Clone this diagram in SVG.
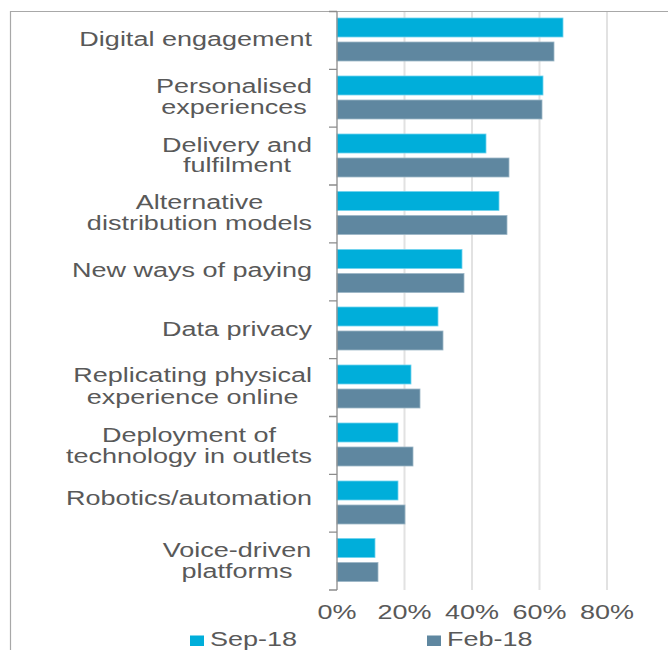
<svg xmlns="http://www.w3.org/2000/svg" width="668" height="650" viewBox="0 0 668 650">
<style>
.lbl{font-family:"Liberation Sans",Arial,sans-serif;font-size:19.5px;fill:#595959;text-anchor:middle}
.leg{font-family:"Liberation Sans",Arial,sans-serif;font-size:19.5px;fill:#595959;text-anchor:start}
.sep{fill:#00AEDA;stroke:#6fd3ee;stroke-width:0.8}
.feb{fill:#5F87A0;stroke:#9cb6c6;stroke-width:0.8}
.grid{stroke:#e2e2e2;stroke-width:2}
.axis{stroke:#8c8c8c;stroke-width:1.3;fill:none}
</style>
<rect width="668" height="650" fill="#ffffff"/>
<g id="frame"><path d="M10.5 650 V11.5 H668" fill="none" stroke="#a8a8a8" stroke-width="1.2"/></g>
<g id="gridlines">
<line class="grid" x1="404.5" y1="12" x2="404.5" y2="590"/>
<line class="grid" x1="472" y1="12" x2="472" y2="590"/>
<line class="grid" x1="539.5" y1="12" x2="539.5" y2="590"/>
<line class="grid" x1="607" y1="12" x2="607" y2="590"/>
</g>
<g id="bars">
<rect class="sep" x="337" y="18" width="226" height="19"/>
<rect class="feb" x="337" y="42" width="217" height="19"/>
<rect class="sep" x="337" y="76" width="206" height="19"/>
<rect class="feb" x="337" y="100" width="205" height="19"/>
<rect class="sep" x="337" y="134" width="149" height="19"/>
<rect class="feb" x="337" y="158" width="172" height="19"/>
<rect class="sep" x="337" y="191.5" width="162" height="19"/>
<rect class="feb" x="337" y="215.5" width="170" height="19"/>
<rect class="sep" x="337" y="249.5" width="125" height="19"/>
<rect class="feb" x="337" y="273.5" width="127" height="19"/>
<rect class="sep" x="337" y="307" width="101" height="19"/>
<rect class="feb" x="337" y="331" width="106" height="19"/>
<rect class="sep" x="337" y="365" width="74" height="19"/>
<rect class="feb" x="337" y="389" width="83" height="19"/>
<rect class="sep" x="337" y="423" width="61" height="19"/>
<rect class="feb" x="337" y="447" width="76" height="19"/>
<rect class="sep" x="337" y="481" width="61" height="19"/>
<rect class="feb" x="337" y="505" width="68" height="19"/>
<rect class="sep" x="337" y="538.5" width="38" height="19"/>
<rect class="feb" x="337" y="562.5" width="41" height="19"/>
</g>
<g id="axis">
<path class="axis" d="M337 11.5 V590 M329 11.5 H337 M329 69.4 H337 M329 127.2 H337 M329 185 H337 M329 242.9 H337 M329 300.8 H337 M329 358.6 H337 M329 416.5 H337 M329 474.3 H337 M329 532.1 H337 M329 590 H337"/>
</g>
<g id="labels" transform="scale(1.385 1)">
<text class="lbl" x="141.3" y="46">Digital engagement</text>
<text class="lbl" x="169" y="93">Personalised</text>
<text class="lbl" x="169" y="114">experiences</text>
<text class="lbl" x="171.1" y="152">Delivery and</text>
<text class="lbl" x="171.1" y="172.5">fulfilment</text>
<text class="lbl" x="144" y="209">Alternative</text>
<text class="lbl" x="144" y="230">distribution models</text>
<text class="lbl" x="138.6" y="277.5">New ways of paying</text>
<text class="lbl" x="171.1" y="335.7">Data privacy</text>
<text class="lbl" x="139.1" y="382">Replicating physical</text>
<text class="lbl" x="139.1" y="404">experience online</text>
<text class="lbl" x="136.5" y="442">Deployment of</text>
<text class="lbl" x="136.5" y="463">technology in outlets</text>
<text class="lbl" x="136.5" y="505">Robotics/automation</text>
<text class="lbl" x="171.1" y="557.5">Voice-driven</text>
<text class="lbl" x="171.1" y="578.5">platforms</text>
<text class="lbl" x="243.3" y="619.5">0%</text>
<text class="lbl" x="292.1" y="619.5">20%</text>
<text class="lbl" x="340.8" y="619.5">40%</text>
<text class="lbl" x="389.5" y="619.5">60%</text>
<text class="lbl" x="438.3" y="619.5">80%</text>
</g>
<g id="legend">
<rect x="190" y="635.5" width="14" height="10.5" fill="#00AEDA"/>
<rect x="427" y="635.5" width="14" height="10.5" fill="#5F87A0"/>
<g transform="scale(1.385 1)">
<text class="leg" x="151.6" y="646">Sep-18</text>
<text class="leg" x="322.7" y="646">Feb-18</text>
</g>
</g>
</svg>
